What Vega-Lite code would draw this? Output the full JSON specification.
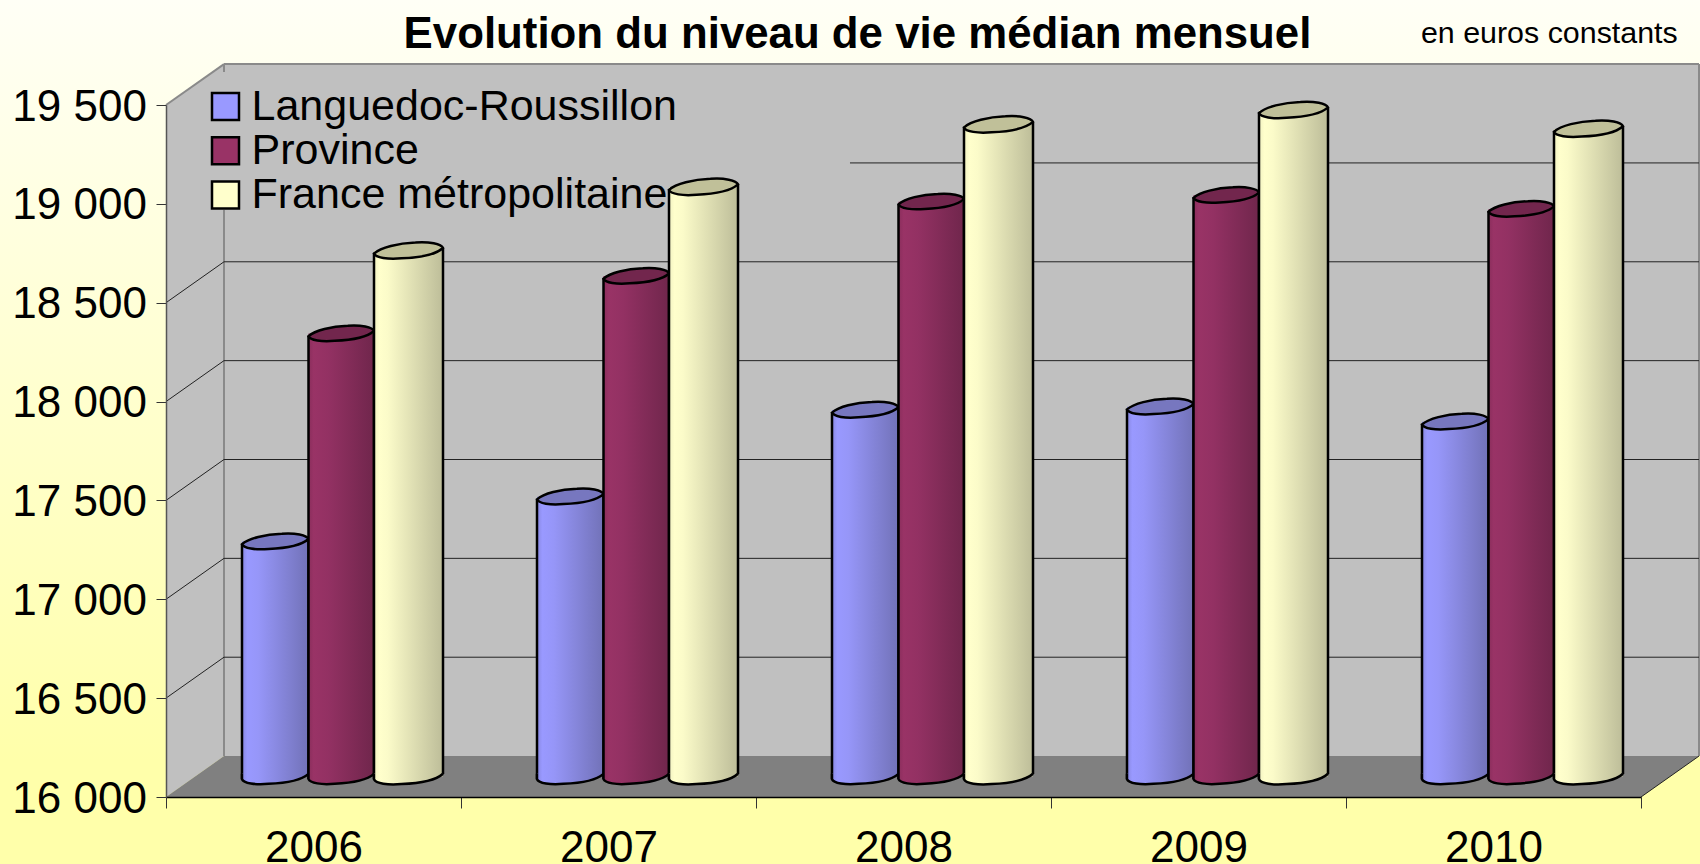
{"$schema":"https://vega.github.io/schema/vega-lite/v6.json","width":1475,"height":692,"autosize":{"type":"none"},"padding":{"left":166,"top":105,"right":59,"bottom":67},"background":"#FFFFF6",
"title":{"text":"Evolution du niveau de vie médian mensuel","font":"Liberation Sans","fontSize":43.8,"fontWeight":"bold","color":"#000000","anchor":"middle","frame":"group","dx":-46,"offset":-91.5,"baseline":"alphabetic"},
"config":{"view":{"stroke":null},"font":"Liberation Sans"},
"datasets":{
"fond":[{"x":2004.937,"x2":2010.7,"y":20031,"y2":15661}],
"muroir_gauche":[{"x":2005.5,"y":19500,"y2":16000},{"x":2005.6966,"y":19707,"y2":16207}],
"mur_fond":[{"x":2005.6966,"y":19707,"y2":16207},{"x":2010.6966,"y":19707,"y2":16207}],
"sol":[{"x":2005.5,"y":16000,"y2":16000},{"x":2005.6966,"y":16207,"y2":16000},{"x":2010.5,"y":16207,"y2":16000},{"x":2010.6966,"y":16207,"y2":16207}],
"grille":[
{"x":2005.6966,"x2":2010.6966,"y":16707,"y2":16707},{"x":2005.6966,"x2":2010.6966,"y":17207,"y2":17207},{"x":2005.6966,"x2":2010.6966,"y":17707,"y2":17707},{"x":2005.6966,"x2":2010.6966,"y":18207,"y2":18207},{"x":2005.6966,"x2":2010.6966,"y":18707,"y2":18707},{"x":2007.8186,"x2":2010.6966,"y":19207,"y2":19207},
{"x":2005.5,"x2":2005.6966,"y":16500,"y2":16707},{"x":2005.5,"x2":2005.6966,"y":17000,"y2":17207},{"x":2005.5,"x2":2005.6966,"y":17500,"y2":17707},{"x":2005.5,"x2":2005.6966,"y":18000,"y2":18207},{"x":2005.5,"x2":2005.6966,"y":18500,"y2":18707},
{"x":2010.5,"x2":2010.6966,"y":16000,"y2":16207}],
"bords":[
{"x":2005.6966,"x2":2010.6966,"y":19707,"y2":19707},{"x":2010.6966,"x2":2010.6966,"y":16207,"y2":19707},{"x":2005.5,"x2":2005.6966,"y":19500,"y2":19707},{"x":2005.6966,"x2":2005.6966,"y":16207,"y2":18969},{"x":2005.6966,"x2":2005.6966,"y":19667,"y2":19707}],
"barres":[
{"x":2006,"y":17188,"serie":"Languedoc-Roussillon"},{"x":2007,"y":17415,"serie":"Languedoc-Roussillon"},{"x":2008,"y":17854,"serie":"Languedoc-Roussillon"},{"x":2009,"y":17870,"serie":"Languedoc-Roussillon"},{"x":2010,"y":17794,"serie":"Languedoc-Roussillon"},
{"x":2006,"y":18240,"serie":"Province"},{"x":2007,"y":18531,"serie":"Province"},{"x":2008,"y":18907,"serie":"Province"},{"x":2009,"y":18940,"serie":"Province"},{"x":2010,"y":18870,"serie":"Province"},
{"x":2006,"y":18659,"serie":"France métropolitaine"},{"x":2007,"y":18981,"serie":"France métropolitaine"},{"x":2008,"y":19297,"serie":"France métropolitaine"},{"x":2009,"y":19370,"serie":"France métropolitaine"},{"x":2010,"y":19275,"serie":"France métropolitaine"}],
"note":[{"x":2009.754,"y":19813,"label":"en euros constants"}]
},
"encoding":{
"x":{"field":"x","type":"quantitative","scale":{"domain":[2005.5,2010.5],"nice":false,"zero":false,"padding":0},"axis":{"title":null,"zindex":1,"grid":false,"values":[2005.5,2006.5,2007.5,2008.5,2009.5,2010.5],"labelExpr":"datum.value<2010?toString(datum.value+0.5):''","labelOffset":147.5,"labelAlign":"center","labelFontSize":44,"labelFont":"Liberation Sans","labelColor":"#000000","labelPadding":18,"labelOverlap":false,"labelFlush":false,"labelBound":false,"tickSize":11,"tickColor":"#333333","domainColor":"#000000","domainWidth":1.5}},
"y":{"field":"y","type":"quantitative","scale":{"domain":[16000,19500],"nice":false,"zero":false,"padding":0},"axis":{"title":null,"zindex":1,"grid":false,"values":[16000,16500,17000,17500,18000,18500,19000,19500],"labelExpr":"replace(format(datum.value,','),',',' ')","labelFontSize":44,"labelFont":"Liberation Sans","labelColor":"#000000","labelPadding":9.6,"labelOffset":2,"labelOverlap":false,"labelBound":false,"labelFlush":false,"tickSize":10,"tickColor":"#333333","domainColor":"#555555","domainWidth":1.5}}
},
"layer":[
{"data":{"name":"fond"},"mark":{"type":"rect","fill":{"gradient":"linear","x1":0,"y1":0,"x2":0,"y2":1,"stops":[{"offset":0,"color":"#FFFFF6"},{"offset":0.88,"color":"#FFFFAA"},{"offset":1,"color":"#FFFFAA"}]}},"encoding":{"x2":{"field":"x2"},"y2":{"field":"y2"}}},
{"data":{"name":"muroir_gauche"},"mark":{"type":"area","orient":"vertical","fill":"#C0C0C0","opacity":1},"encoding":{"y2":{"field":"y2"}}},
{"data":{"name":"mur_fond"},"mark":{"type":"area","orient":"vertical","fill":"#C0C0C0","opacity":1},"encoding":{"y2":{"field":"y2"}}},
{"data":{"name":"sol"},"mark":{"type":"area","orient":"vertical","fill":"#808080","opacity":1},"encoding":{"y2":{"field":"y2"}}},
{"data":{"name":"bords"},"mark":{"type":"rule","stroke":"#8A8A8A","strokeWidth":2},"encoding":{"x2":{"field":"x2"},"y2":{"field":"y2"}}},
{"data":{"name":"grille"},"mark":{"type":"rule","stroke":"#222222","strokeWidth":1},"encoding":{"x2":{"field":"x2"},"y2":{"field":"y2"}}},

{"data":{"name":"barres"},"transform":[{"filter":"datum.serie==='Languedoc-Roussillon'"}],"mark":{"type":"bar","orient":"vertical","width":66.5,"xOffset":-38.25,"yOffset":-20.5,"y2Offset":-20.5,"fill":{"gradient":"linear","x1":0,"y1":0,"x2":1,"y2":0,"stops":[{"offset":0,"color":"#8888E0"},{"offset":0.08,"color":"#9999FF"},{"offset":0.25,"color":"#9696F8"},{"offset":1,"color":"#7272B8"}]}},"encoding":{"y2":{"datum":16000}}},
{"data":{"name":"barres"},"transform":[{"filter":"datum.serie==='Languedoc-Roussillon'"}],"mark":{"type":"rule","stroke":"#000000","strokeWidth":2.5,"xOffset":-71.5,"yOffset":-18,"y2Offset":-18},"encoding":{"y2":{"datum":16000}}},
{"data":{"name":"barres"},"transform":[{"filter":"datum.serie==='Languedoc-Roussillon'"}],"mark":{"type":"rule","stroke":"#000000","strokeWidth":2.5,"xOffset":-5,"yOffset":-23,"y2Offset":-23},"encoding":{"y2":{"datum":16000}}},
{"data":{"name":"barres"},"transform":[{"filter":"datum.serie==='Languedoc-Roussillon'"}],"mark":{"type":"point","filled":true,"opacity":1,"size":4422,"shape":"M1,-0.08 C0.8,0.1 0.3,0.2 -0.2,0.22 C-0.6,0.26 -0.95,0.2 -1,0.08 L-1,-0.08","xOffset":-38.25,"yOffset":-20.5,"stroke":"#000000","strokeWidth":2.5,"fill":{"gradient":"linear","x1":0,"y1":0,"x2":1,"y2":0,"stops":[{"offset":0,"color":"#8888E0"},{"offset":0.08,"color":"#9999FF"},{"offset":0.25,"color":"#9696F8"},{"offset":1,"color":"#7272B8"}]}},"encoding":{"y":{"datum":16000}}},
{"data":{"name":"barres"},"transform":[{"filter":"datum.serie==='Languedoc-Roussillon'"}],"mark":{"type":"point","filled":true,"opacity":1,"size":4422,"shape":"M-1,0.08 C-0.8,-0.1 -0.3,-0.22 0.2,-0.24 C0.6,-0.27 0.95,-0.2 1,-0.08 C0.8,0.1 0.3,0.2 -0.2,0.22 C-0.6,0.26 -0.95,0.2 -1,0.08 Z","xOffset":-38.25,"yOffset":-20.5,"stroke":"#000000","strokeWidth":2.5,"fill":"#7777BF"}},

{"data":{"name":"barres"},"transform":[{"filter":"datum.serie==='Province'"}],"mark":{"type":"bar","orient":"vertical","width":65.5,"xOffset":27.75,"yOffset":-20.5,"y2Offset":-20.5,"fill":{"gradient":"linear","x1":0,"y1":0,"x2":1,"y2":0,"stops":[{"offset":0,"color":"#8A2E5C"},{"offset":0.08,"color":"#993366"},{"offset":0.3,"color":"#933163"},{"offset":1,"color":"#70264C"}]}},"encoding":{"y2":{"datum":16000}}},
{"data":{"name":"barres"},"transform":[{"filter":"datum.serie==='Province'"}],"mark":{"type":"rule","stroke":"#000000","strokeWidth":2.5,"xOffset":-5,"yOffset":-18,"y2Offset":-18},"encoding":{"y2":{"datum":16000}}},
{"data":{"name":"barres"},"transform":[{"filter":"datum.serie==='Province'"}],"mark":{"type":"rule","stroke":"#000000","strokeWidth":2.5,"xOffset":60.5,"yOffset":-23,"y2Offset":-23},"encoding":{"y2":{"datum":16000}}},
{"data":{"name":"barres"},"transform":[{"filter":"datum.serie==='Province'"}],"mark":{"type":"point","filled":true,"opacity":1,"size":4290,"shape":"M1,-0.08 C0.8,0.1 0.3,0.2 -0.2,0.22 C-0.6,0.26 -0.95,0.2 -1,0.08 L-1,-0.08","xOffset":27.75,"yOffset":-20.5,"stroke":"#000000","strokeWidth":2.5,"fill":{"gradient":"linear","x1":0,"y1":0,"x2":1,"y2":0,"stops":[{"offset":0,"color":"#8A2E5C"},{"offset":0.08,"color":"#993366"},{"offset":0.3,"color":"#933163"},{"offset":1,"color":"#70264C"}]}},"encoding":{"y":{"datum":16000}}},
{"data":{"name":"barres"},"transform":[{"filter":"datum.serie==='Province'"}],"mark":{"type":"point","filled":true,"opacity":1,"size":4290,"shape":"M-1,0.08 C-0.8,-0.1 -0.3,-0.22 0.2,-0.24 C0.6,-0.27 0.95,-0.2 1,-0.08 C0.8,0.1 0.3,0.2 -0.2,0.22 C-0.6,0.26 -0.95,0.2 -1,0.08 Z","xOffset":27.75,"yOffset":-20.5,"stroke":"#000000","strokeWidth":2.5,"fill":"#72264D"}},

{"data":{"name":"barres"},"transform":[{"filter":"datum.serie==='France métropolitaine'"}],"mark":{"type":"bar","orient":"vertical","width":69,"xOffset":95,"yOffset":-20.5,"y2Offset":-20.5,"fill":{"gradient":"linear","x1":0,"y1":0,"x2":1,"y2":0,"stops":[{"offset":0,"color":"#F2F2C2"},{"offset":0.08,"color":"#FFFFCC"},{"offset":0.2,"color":"#FBFBC9"},{"offset":1,"color":"#BDBD99"}]}},"encoding":{"y2":{"datum":16000}}},
{"data":{"name":"barres"},"transform":[{"filter":"datum.serie==='France métropolitaine'"}],"mark":{"type":"rule","stroke":"#000000","strokeWidth":2.5,"xOffset":60.5,"yOffset":-18,"y2Offset":-18},"encoding":{"y2":{"datum":16000}}},
{"data":{"name":"barres"},"transform":[{"filter":"datum.serie==='France métropolitaine'"}],"mark":{"type":"rule","stroke":"#000000","strokeWidth":2.5,"xOffset":129.5,"yOffset":-23,"y2Offset":-23},"encoding":{"y2":{"datum":16000}}},
{"data":{"name":"barres"},"transform":[{"filter":"datum.serie==='France métropolitaine'"}],"mark":{"type":"point","filled":true,"opacity":1,"size":4761,"shape":"M1,-0.08 C0.8,0.1 0.3,0.2 -0.2,0.22 C-0.6,0.26 -0.95,0.2 -1,0.08 L-1,-0.08","xOffset":95,"yOffset":-20.5,"stroke":"#000000","strokeWidth":2.5,"fill":{"gradient":"linear","x1":0,"y1":0,"x2":1,"y2":0,"stops":[{"offset":0,"color":"#F2F2C2"},{"offset":0.08,"color":"#FFFFCC"},{"offset":0.2,"color":"#FBFBC9"},{"offset":1,"color":"#BDBD99"}]}},"encoding":{"y":{"datum":16000}}},
{"data":{"name":"barres"},"transform":[{"filter":"datum.serie==='France métropolitaine'"}],"mark":{"type":"point","filled":true,"opacity":1,"size":4761,"shape":"M-1,0.08 C-0.8,-0.1 -0.3,-0.22 0.2,-0.24 C0.6,-0.27 0.95,-0.2 1,-0.08 C0.8,0.1 0.3,0.2 -0.2,0.22 C-0.6,0.26 -0.95,0.2 -1,0.08 Z","xOffset":95,"yOffset":-20.5,"stroke":"#000000","strokeWidth":2.5,"fill":"#C0C099"}},

{"data":{"name":"barres"},"mark":{"type":"point","shape":"square","filled":true,"opacity":0,"size":100},"encoding":{"color":{"field":"serie","type":"nominal","scale":{"domain":["Languedoc-Roussillon","Province","France métropolitaine"],"range":["#9999FF","#993366","#FFFFCC"]},"legend":{"title":null,"orient":"none","legendX":38,"legendY":-20,"symbolType":"square","symbolSize":729,"symbolOpacity":1,"symbolStrokeColor":"#000000","symbolStrokeWidth":2.5,"labelFont":"Liberation Sans","labelFontSize":43,"labelColor":"#000000","labelLimit":600,"labelOffset":4.5,"rowPadding":0.3,"padding":0}}}},
{"data":{"name":"note"},"mark":{"type":"text","font":"Liberation Sans","fontSize":30.4,"align":"left","baseline":"alphabetic","color":"#000000"},"encoding":{"text":{"field":"label"}}}
]}
